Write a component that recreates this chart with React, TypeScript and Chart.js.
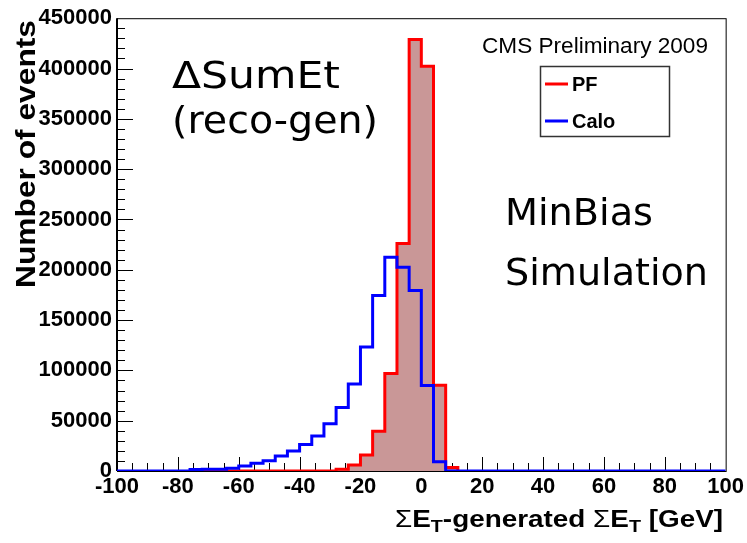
import React, { useEffect, useRef } from "react";
import { Chart, registerables } from "chart.js";

Chart.register(...registerables);

// ---- data ----
const BIN_WIDTH = 4; // GeV
const caloStart = -100;
const caloValues = [
  0, 0, 0, 0, 0, 0,
  1500, 1700, 1800, 2700, 5000, 7600, 10200, 14900, 20000, 26400, 34800,
  47000, 63000, 86500, 123200, 174400, 212400, 202500, 179400, 85000, 9200,
  0, 0, 0, 0, 0, 0, 0, 0, 0, 0, 0, 0, 0, 0, 0, 0, 0, 0, 0, 0, 0, 0, 0,
];
const pfStart = -76;
const pfValues = [
  0, 0, 0, 0, 0, 0, 0, 0, 0, 0, 0, 0,
  1700, 5900, 16000, 39600, 96800, 226200, 428800, 402300, 85200, 3500,
];
const xTickMin = -100;
const xTickMax = 100;
const xTickStep = 20;
const xMinorStep = 5;
const yTickMax = 450000;
const yTickStep = 50000;
const yMinorStep = 10000;
const seriesNames = ["PF", "Calo"];
const cmsLabel = "CMS Preliminary 2009";
const yTitle = "Number of events";
const annotations = ["\u0394SumEt", "(reco-gen)", "MinBias", "Simulation"];

const PF_COLOR = "#ff0000";
const CALO_COLOR = "#0000ff";
const PF_FILL = "rgb(201,151,151)";

function toSteps(start: number, values: number[]) {
  const pts: { x: number; y: number }[] = [{ x: start, y: 0 }];
  values.forEach((v, i) => pts.push({ x: start + i * BIN_WIDTH, y: v }));
  pts.push({ x: start + values.length * BIN_WIDTH, y: 0 });
  return pts;
}

function fitText(
  ctx: CanvasRenderingContext2D,
  text: string,
  x: number,
  y: number,
  font: string,
  width: number
) {
  ctx.font = font;
  const w = ctx.measureText(text).width;
  const sx = width / w;
  ctx.save();
  ctx.translate(x, y);
  ctx.scale(sx, 1);
  ctx.textAlign = "left";
  ctx.textBaseline = "alphabetic";
  ctx.fillText(text, 0, 0);
  ctx.restore();
}

const frameTicksPlugin = {
  id: "frameTicks",
  beforeDatasetsDraw(chart: any) {
    const { ctx, chartArea } = chart;
    const xs = chart.scales.x;
    const ys = chart.scales.y;
    ctx.save();
    ctx.strokeStyle = "#000";
    ctx.lineWidth = 1;
    ctx.strokeRect(chartArea.left + 0.5, chartArea.top + 0.5, chartArea.right - chartArea.left, chartArea.bottom - chartArea.top);
    ctx.lineWidth = 2;
    ctx.beginPath();
    ctx.moveTo(chartArea.left, chartArea.top);
    ctx.lineTo(chartArea.left, chartArea.bottom);
    ctx.stroke();
    ctx.lineWidth = 1;
    ctx.beginPath();
    for (let v = xTickMin + xMinorStep; v < xTickMax; v += xMinorStep) {
      const px = Math.round(xs.getPixelForValue(v)) + 0.5;
      const len = v % xTickStep === 0 ? 14 : 8;
      ctx.moveTo(px, chartArea.bottom);
      ctx.lineTo(px, chartArea.bottom - len);
    }
    for (let v = yMinorStep; v < yTickMax; v += yMinorStep) {
      const py = Math.round(ys.getPixelForValue(v)) + 0.5;
      const len = v % yTickStep === 0 ? 16 : 8;
      ctx.moveTo(chartArea.left, py);
      ctx.lineTo(chartArea.left + len, py);
    }
    ctx.stroke();
    ctx.restore();
  },
  afterDraw(chart: any) {
    const { ctx } = chart;
    ctx.save();
    ctx.fillStyle = "#000";
    // y title
    ctx.save();
    ctx.translate(35, 288);
    ctx.rotate(-Math.PI / 2);
    fitText(ctx, yTitle, 0, 0, "bold 28px 'Liberation Sans', Arial, sans-serif", 268);
    ctx.restore();

    // x title with subscripts
    const pieces = [
      { t: "\u03A3", f: "24px 'Liberation Sans', Arial, sans-serif", dy: 0 },
      { t: "E", f: "bold 24px 'Liberation Sans', Arial, sans-serif", dy: 0 },
      { t: "T", f: "bold 17px 'Liberation Sans', Arial, sans-serif", dy: 5 },
      { t: "-generated ", f: "bold 24px 'Liberation Sans', Arial, sans-serif", dy: 0 },
      { t: "\u03A3", f: "24px 'Liberation Sans', Arial, sans-serif", dy: 0 },
      { t: "E", f: "bold 24px 'Liberation Sans', Arial, sans-serif", dy: 0 },
      { t: "T", f: "bold 17px 'Liberation Sans', Arial, sans-serif", dy: 5 },
      { t: " [GeV]", f: "bold 24px 'Liberation Sans', Arial, sans-serif", dy: 0 },
    ];
    let total = 0;
    const widths = pieces.map((p) => {
      ctx.font = p.f;
      const w = ctx.measureText(p.t).width;
      total += w;
      return w;
    });
    const targetW = 328;
    const sx = targetW / total;
    ctx.save();
    ctx.translate(723 - targetW, 527);
    ctx.scale(sx, 1);
    ctx.textBaseline = "alphabetic";
    ctx.textAlign = "left";
    let cx = 0;
    pieces.forEach((p, i) => {
      ctx.font = p.f;
      ctx.fillText(p.t, cx, p.dy);
      cx += widths[i];
    });
    ctx.restore();

    // CMS label
    fitText(ctx, cmsLabel, 482, 53, "22px 'Liberation Sans', Arial, sans-serif", 226);

    // legend
    ctx.fillStyle = "#fff";
    ctx.fillRect(540, 66, 130, 71);
    ctx.strokeStyle = "#333";
    ctx.lineWidth = 1.5;
    ctx.strokeRect(540.5, 66.5, 129, 70);
    const entries = [
      { name: seriesNames[0], color: PF_COLOR, y: 84 },
      { name: seriesNames[1], color: CALO_COLOR, y: 121 },
    ];
    entries.forEach((e) => {
      ctx.strokeStyle = e.color;
      ctx.lineWidth = 3;
      ctx.beginPath();
      ctx.moveTo(545, e.y);
      ctx.lineTo(568, e.y);
      ctx.stroke();
      ctx.fillStyle = "#000";
      ctx.font = "bold 20px 'Liberation Sans', Arial, sans-serif";
      ctx.textBaseline = "middle";
      ctx.textAlign = "left";
      ctx.fillText(e.name, 572, e.y + 1);
    });

    // annotations
    ctx.fillStyle = "#000";
    const af = "38px 'Comic Sans MS', 'DejaVu Sans', sans-serif";
    fitText(ctx, annotations[0], 172, 88, af, 168);
    fitText(ctx, annotations[1], 172, 133, af, 206);
    fitText(ctx, annotations[2], 505, 225, af, 148);
    fitText(ctx, annotations[3], 505, 285, af, 203);
    ctx.restore();
  },
};

export default function App() {
  const ref = useRef<HTMLCanvasElement | null>(null);
  useEffect(() => {
    if (!ref.current) return;
    const tickFont = { family: "'Liberation Sans', Arial, sans-serif", size: 22, weight: "bold" as const };
    const chart = new Chart(ref.current, {
      type: "line",
      data: {
        datasets: [
          {
            label: seriesNames[1],
            data: toSteps(caloStart, caloValues),
            borderColor: CALO_COLOR,
            borderWidth: 3,
            stepped: true,
            pointRadius: 0,
            fill: false,
            borderJoinStyle: "miter",
          },
          {
            label: seriesNames[0],
            data: toSteps(pfStart, pfValues),
            borderColor: PF_COLOR,
            backgroundColor: PF_FILL,
            borderWidth: 3,
            stepped: true,
            pointRadius: 0,
            fill: "origin",
            borderJoinStyle: "miter",
          },
        ],
      },
      options: {
        responsive: false,
        animation: false,
        parsing: false as any,
        layout: { padding: { top: 17, right: 20, left: 0, bottom: 0 } },
        plugins: {
          legend: { display: false },
          tooltip: { enabled: false },
        },
        scales: {
          x: {
            type: "linear",
            min: xTickMin,
            max: xTickMax,
            grid: { display: false, drawTicks: false },
            border: { display: false },
            ticks: {
              stepSize: xTickStep,
              font: tickFont,
              color: "#000",
              padding: 3,
              maxRotation: 0,
              autoSkip: false,
              callback: (v: any) => String(v),
            },
            afterFit(scale: any) {
              scale.height = 72;
            },
          },
          y: {
            type: "linear",
            min: 0,
            max: yTickMax,
            grid: { display: false, drawTicks: false },
            border: { display: false },
            ticks: {
              stepSize: yTickStep,
              font: tickFont,
              color: "#000",
              padding: 5,
              autoSkip: false,
              callback: (v: any) => String(v),
            },
            afterFit(scale: any) {
              scale.width = 117;
            },
          },
        },
      },
      plugins: [frameTicksPlugin],
    });
    return () => chart.destroy();
  }, []);
  return (
    <div style={{ position: "fixed", left: 0, top: 0, width: 747, height: 543, background: "#fff" }}>
      <canvas ref={ref} width={747} height={543} style={{ width: 747, height: 543, display: "block" }} />
    </div>
  );
}
